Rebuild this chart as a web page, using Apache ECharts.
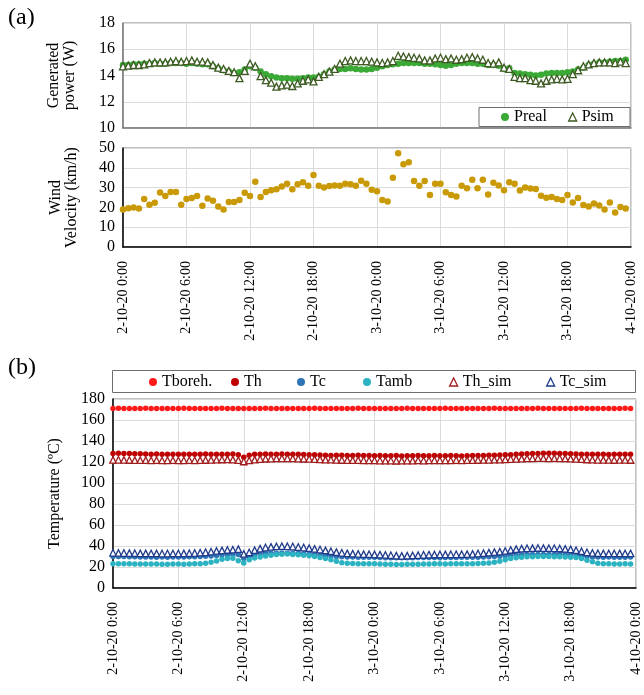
<!DOCTYPE html>
<html>
<head>
<meta charset="utf-8">
<script src="https://cdn.jsdelivr.net/npm/echarts@6/dist/echarts.min.js"></script>
<style>
  html, body { margin: 0; padding: 0; background: #fff; }
  #chart { width: 644px; height: 695px; }
</style>
</head>
<body>
<div id="chart"></div>
<script>
// Half-hourly records, 2-10-20 0:00 to 3-10-20 23:30
const startHour = 0;
const stepHours = 0.5;

const tickLabels = ['2-10-20 0:00', '2-10-20 6:00', '2-10-20 12:00', '2-10-20 18:00',
  '3-10-20 0:00', '3-10-20 6:00', '3-10-20 12:00', '3-10-20 18:00', '4-10-20 0:00'];

// Generated power (W)
const pReal = [14.8,14.8,14.85,14.85,14.9,14.9,14.95,14.9,14.9,14.95,
  14.95,14.95,14.9,14.95,14.9,14.85,14.85,14.7,14.55,14.4,
  14.3,14.2,14.25,14.45,14.7,14.6,14.3,14.1,13.95,13.85,
  13.8,13.8,13.75,13.75,13.8,13.85,13.85,13.9,14.1,14.3,
  14.45,14.5,14.5,14.55,14.5,14.45,14.45,14.5,14.6,14.7,
  14.8,14.85,14.9,14.95,14.95,14.95,14.95,14.9,14.9,14.85,
  14.8,14.75,14.8,14.9,14.95,14.95,14.95,14.9,14.9,14.8,
  14.8,14.75,14.5,14.55,14.2,14.15,14.1,14.05,14.0,14.05,
  14.15,14.2,14.2,14.2,14.25,14.3,14.45,14.6,14.8,14.9,
  15.0,15.0,15.05,15.1,15.1,15.2];
const pSim = [14.7,14.75,14.8,14.8,14.85,14.95,15.0,15.0,15.0,15.05,
  15.1,15.05,15.1,15.15,15.05,15.05,15.0,14.8,14.6,14.5,
  14.35,14.25,13.8,14.35,14.9,14.7,13.95,13.65,13.45,13.15,
  13.25,13.3,13.2,13.4,13.6,13.7,13.55,13.9,14.1,14.3,
  14.5,14.9,15.1,15.15,15.1,15.1,15.1,15.05,15.0,14.95,
  15.0,15.1,15.5,15.45,15.4,15.35,15.3,15.15,15.15,15.3,
  15.35,15.25,15.3,15.2,15.25,15.35,15.4,15.3,15.2,14.95,
  14.9,15.0,14.6,14.5,13.9,13.8,13.8,13.65,13.6,13.4,
  13.6,13.7,13.75,13.7,13.75,14.1,14.4,14.7,14.85,14.95,
  15.0,15.0,15.0,14.95,15.05,14.95];

// Wind velocity (km/h)
const windSpeed = [19.0,19.6,20.0,19.5,24.3,21.3,22.3,27.5,25.8,27.8,
  27.8,21.3,24.2,24.7,25.7,20.8,24.5,23.3,20.5,19.0,
  22.7,22.7,23.7,27.4,25.7,32.9,25.3,27.8,28.7,29.2,
  30.5,32.0,29.2,31.7,32.7,30.9,36.4,30.9,30.0,30.8,
  31.1,30.9,32.0,31.7,30.9,33.5,32.0,28.9,28.2,23.8,
  23.0,35.0,47.3,41.8,42.8,33.3,30.9,33.3,26.2,32.0,
  32.0,27.7,26.2,25.5,30.9,29.7,34.0,29.7,34.0,26.5,
  32.5,31.0,28.7,32.7,32.0,28.5,30.0,29.5,29.3,25.9,
  24.9,25.2,24.2,23.8,26.2,22.5,24.7,21.2,20.5,22.0,
  20.9,19.0,22.5,17.4,20.2,19.5];

// Temperatures (ºC)
const tBoreh = [171.0,171.1,171.0,170.9,171.0,171.0,171.1,171.0,171.0,170.9,
  171.0,171.0,171.0,171.1,171.0,171.0,170.9,171.0,171.0,171.0,
  171.1,171.0,171.0,171.0,170.9,171.0,171.0,171.0,171.1,171.0,
  171.0,171.0,170.9,171.0,171.0,171.0,171.0,171.1,171.0,171.0,
  171.0,170.9,171.0,171.0,171.0,171.1,171.0,171.0,170.9,171.0,
  171.0,171.0,171.0,171.0,171.1,171.0,171.0,170.9,171.0,171.0,
  171.0,171.1,171.0,171.0,171.0,170.9,171.0,171.0,171.0,171.0,
  171.1,171.0,171.0,171.0,170.9,171.0,171.0,171.0,171.1,171.0,
  171.0,171.0,170.9,171.0,171.0,171.0,171.1,171.0,171.0,171.0,
  170.9,171.0,171.0,171.0,171.1,171.0];
const tHot = [128.2,128.3,128.2,128.0,127.8,127.8,127.6,127.5,127.6,127.4,
  127.3,127.4,127.5,127.3,127.4,127.5,127.4,127.6,127.5,127.4,
  127.5,127.3,127.6,126.8,124.5,126.5,127.3,127.5,127.6,127.5,
  127.4,127.6,127.5,127.3,127.4,127.2,127.0,126.8,126.6,126.5,
  126.3,126.5,126.4,126.2,126.3,126.4,126.2,126.3,126.0,126.1,
  125.9,126.0,126.1,125.8,125.9,126.0,126.1,125.9,126.0,126.2,
  126.0,125.9,126.1,126.0,125.8,126.0,126.1,126.2,126.3,126.4,
  126.5,126.6,126.8,127.0,127.3,127.6,127.8,128.0,128.2,128.3,
  128.4,128.3,128.2,128.0,127.8,127.6,127.5,127.4,127.5,127.3,
  127.4,127.2,127.3,127.4,127.3,127.4];
const tCold = [30.0,30.1,29.9,29.8,29.7,29.6,29.5,29.6,29.4,29.5,
  29.4,29.5,29.6,29.5,29.7,29.8,30.0,30.2,30.5,31.0,
  31.4,31.6,31.8,32.0,28.0,30.2,31.5,32.3,32.8,33.0,
  33.2,33.3,33.2,33.1,32.9,32.6,32.1,31.6,31.2,30.8,
  30.4,30.0,29.8,29.6,29.5,29.4,29.3,29.2,29.2,29.0,
  28.9,28.8,28.7,28.7,28.8,28.9,29.0,29.0,29.1,29.0,
  28.9,29.0,29.0,29.1,29.2,29.3,29.2,29.4,29.6,29.8,
  30.0,30.3,30.8,31.2,31.5,31.7,31.8,31.9,32.0,32.0,
  32.0,31.9,31.8,31.6,31.4,31.0,30.4,29.9,29.6,29.5,
  29.4,29.5,29.4,29.3,29.4,29.5];
const tAmb = [23.2,23.1,23.0,23.0,22.9,22.9,22.8,22.8,22.8,22.7,
  22.7,22.8,22.8,22.7,22.8,23.0,23.2,23.6,24.5,25.8,
  27.3,28.0,28.3,26.0,23.8,27.0,28.6,29.6,30.5,31.3,
  31.9,32.2,32.3,32.0,31.6,31.2,30.7,30.0,29.0,28.0,
  27.0,25.5,24.0,23.5,23.3,23.2,23.1,23.0,23.0,22.8,
  22.7,22.6,22.5,22.5,22.6,22.7,22.6,22.8,22.9,23.0,
  23.0,22.9,23.0,23.1,23.0,23.1,23.2,23.3,23.5,23.9,
  24.6,25.5,26.8,28.0,28.9,29.4,29.7,29.8,29.9,30.0,
  29.9,29.8,29.7,29.6,29.4,29.0,28.0,26.5,25.0,23.6,
  23.1,23.0,22.9,22.9,23.0,22.9];
const tHotSim = [122.0,122.1,122.0,121.9,121.8,121.7,121.8,121.6,121.7,121.5,
  121.6,121.7,121.5,121.6,121.7,121.6,121.8,121.9,122.0,122.2,
  122.4,122.5,122.3,121.8,120.5,121.5,122.3,122.8,123.1,123.3,
  123.4,123.5,123.5,123.4,123.3,123.1,122.9,122.7,122.5,122.3,
  122.2,122.0,121.9,121.8,121.7,121.8,121.6,121.5,121.5,121.4,
  121.3,121.4,121.2,121.3,121.4,121.3,121.5,121.4,121.5,121.6,
  121.5,121.6,121.5,121.7,121.6,121.7,121.8,121.9,122.0,122.1,
  122.2,122.3,122.5,122.8,123.0,123.2,123.4,123.5,123.6,123.6,
  123.5,123.6,123.5,123.4,123.2,123.0,122.7,122.4,122.2,122.1,
  122.0,122.0,121.9,122.0,122.0,121.9];
const tColdSim = [33.5,33.4,33.3,33.2,33.1,33.0,33.0,32.9,32.9,32.8,
  32.8,32.9,32.9,33.0,33.1,33.3,33.6,34.0,34.6,35.3,
  35.8,36.2,36.5,37.0,32.5,33.8,36.0,37.5,38.5,39.2,
  39.6,39.8,39.7,39.5,39.0,38.5,38.0,37.3,36.6,35.8,
  35.0,34.2,33.5,33.0,32.7,32.5,32.3,32.2,32.0,31.8,
  31.5,31.2,30.8,30.6,30.8,31.0,31.3,31.6,31.8,31.9,
  32.0,32.0,32.1,32.1,32.2,32.3,32.5,32.8,33.2,33.7,
  34.2,34.6,35.3,36.2,37.0,37.5,37.8,38.0,38.1,38.0,
  37.9,37.8,37.6,37.3,36.8,36.0,35.0,34.0,33.4,33.1,
  33.0,32.9,32.9,33.0,32.9,33.0];

const SERIF = '"Liberation Serif", "Times New Roman", serif';
const GRID_LINE = { show: true, lineStyle: { color: '#dcdcdc', width: 1 } };

function toPoints(values) {
  return values.map((v, i) => [startHour + i * stepHours, v]);
}

function timeAxis(gridIndex, showLabels, lineColor) {
  return {
    type: 'value', gridIndex, min: 0, max: 48, interval: 6,
    axisLine: { show: true, lineStyle: { color: lineColor, width: 1.5 } },
    axisTick: { show: false },
    splitLine: GRID_LINE,
    axisLabel: {
      show: showLabels, rotate: 90, margin: 14,
      fontFamily: SERIF, fontSize: 14, color: '#000',
      formatter: v => tickLabels[Math.round(v / 6)]
    }
  };
}

function valueAxis(gridIndex, min, max, interval, name, nameGap, lineColor) {
  return {
    type: 'value', gridIndex, min, max, interval,
    name, nameLocation: 'middle', nameGap, nameRotate: 90,
    nameTextStyle: { fontFamily: SERIF, fontSize: 16, color: '#000', lineHeight: 16 },
    axisLine: { show: true, lineStyle: { color: lineColor, width: 1.5 } },
    axisTick: { show: false },
    splitLine: GRID_LINE,
    axisLabel: { fontFamily: SERIF, fontSize: 16, color: '#000', margin: 8 }
  };
}

// One legend entry per component so each entry sits at its own x position
function legendItem(name, icon, itemStyle, left, top) {
  return {
    data: [{ name, icon, itemStyle }],
    left, top, padding: 0, selectedMode: false, z: 6,
    itemWidth: 8, itemHeight: 8, itemGap: 0,
    textStyle: { fontFamily: SERIF, fontSize: 16, color: '#000' }
  };
}

const C = {
  preal: '#3aa935', psim: '#3d5a23', wind: '#c99a06',
  boreh: '#ff1a1a', th: '#c00000', tc: '#2e75b6', tamb: '#2cb3c2',
  thSim: '#a11d1d', tcSim: '#1f3a8a'
};

function scatter(name, values, xi, yi, symbol, size, fill, border) {
  return {
    name, type: 'scatter', xAxisIndex: xi, yAxisIndex: yi,
    data: toPoints(values), symbol, symbolSize: size,
    itemStyle: border
      ? { color: '#ffffff', borderColor: border, borderWidth: 1.3, opacity: 1 }
      : { color: fill, opacity: 1 },
    emphasis: { disabled: true }, animation: false
  };
}

const option = {
  animation: false,
  backgroundColor: '#ffffff',
  grid: [
    { left: 123, top: 23, width: 508, height: 105, show: true, borderColor: '#808080', borderWidth: 1 },
    { left: 123, top: 148, width: 508, height: 99, show: true, borderColor: '#808080', borderWidth: 1 },
    { left: 113, top: 399, width: 523, height: 189, show: true, borderColor: '#808080', borderWidth: 1 }
  ],
  xAxis: [
    timeAxis(0, false, '#7a7a7a'),
    timeAxis(1, true, '#000000'),
    timeAxis(2, true, '#000000')
  ],
  yAxis: [
    valueAxis(0, 10, 18, 2, 'Generated\npower (W)', 45, '#7a7a7a'),
    valueAxis(1, 0, 50, 10, 'Wind\nVelocity (km/h)', 43, '#000000'),
    valueAxis(2, 0, 180, 20, 'Temperature (ºC)', 50, '#000000')
  ],
  legend: [
    legendItem('Preal', 'circle', { color: C.preal }, 501, 109),
    legendItem('Psim', 'triangle', { color: '#fff', borderColor: C.psim, borderWidth: 1.3 }, 568, 109),
    legendItem('Tboreh.', 'circle', { color: C.boreh }, 149, 374),
    legendItem('Th', 'circle', { color: C.th }, 231, 374),
    legendItem('Tc', 'circle', { color: C.tc }, 297, 374),
    legendItem('Tamb', 'circle', { color: C.tamb }, 363, 374),
    legendItem('Th_sim', 'triangle', { color: '#fff', borderColor: C.thSim, borderWidth: 1.3 }, 449, 374),
    legendItem('Tc_sim', 'triangle', { color: '#fff', borderColor: C.tcSim, borderWidth: 1.3 }, 546, 374)
  ],
  graphic: [
    { type: 'rect', z: 3, shape: { x: 479, y: 107.5, width: 151, height: 19 },
      style: { fill: '#ffffff', stroke: '#6e6e6e', lineWidth: 1 } },
    { type: 'rect', z: 0, shape: { x: 112.5, y: 370.5, width: 523, height: 22 },
      style: { fill: '#ffffff', stroke: '#6e6e6e', lineWidth: 1 } },
    { type: 'text', left: 8, top: 6,
      style: { text: '(a)', font: '24px ' + SERIF, fill: '#000' } },
    { type: 'text', left: 8, top: 356,
      style: { text: '(b)', font: '24px ' + SERIF, fill: '#000' } }
  ],
  series: [
    scatter('Preal', pReal, 0, 0, 'circle', 6.5, C.preal),
    scatter('Psim', pSim, 0, 0, 'triangle', 7, null, C.psim),
    scatter('Wind', windSpeed, 1, 1, 'circle', 6.5, C.wind),
    scatter('Tboreh.', tBoreh, 2, 2, 'circle', 5.5, C.boreh),
    scatter('Th', tHot, 2, 2, 'circle', 5.5, C.th),
    scatter('Tc', tCold, 2, 2, 'circle', 5.5, C.tc),
    scatter('Tamb', tAmb, 2, 2, 'circle', 5.5, C.tamb),
    scatter('Th_sim', tHotSim, 2, 2, 'triangle', 6.5, null, C.thSim),
    scatter('Tc_sim', tColdSim, 2, 2, 'triangle', 6.5, null, C.tcSim)
  ]
};

const chart = echarts.init(document.getElementById('chart'), null, { renderer: 'canvas' });
chart.setOption(option);
</script>
</body>
</html>
